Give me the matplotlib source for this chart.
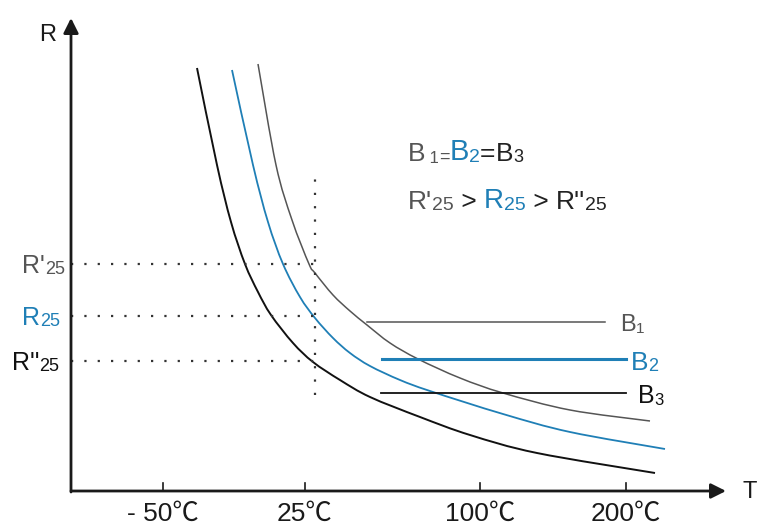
import matplotlib.pyplot as plt
from matplotlib.path import Path
from matplotlib.patches import PathPatch

plt.rcParams['font.family'] = ['Liberation Sans', 'Noto Sans CJK SC', 'DejaVu Sans']

BLUE = '#1f7fb6'
GRAY = '#555555'
DARK = '#1a1a1a'

# curves, in chart units (T to the right, R upwards, origin at the axes corner)
black_t = [126, 146, 160, 174, 187, 200, 222, 242, 269, 299, 349, 399, 466, 584]
black_r = [423, 326, 269, 227, 199, 176, 148, 129, 111, 94, 74, 56, 38, 18]
blue_t = [161, 182, 197, 212, 229, 244, 262, 279, 299, 329, 359, 432, 499, 594]
blue_r = [421, 326, 269, 227, 194, 173, 153, 138, 125, 111, 100, 77, 59, 42]
gray_t = [187, 205, 221, 238, 244, 262, 279, 296, 319, 347, 389, 432, 499, 579]
gray_r = [427, 326, 271, 227, 218, 196, 180, 166, 148, 132, 113, 98, 81, 70]

# reference resistances at 25 degC
r_levels = [227, 175, 130]
t25 = 244

# x ticks
tick_pos = [92, 234, 409, 555]
tick_labels = ['- 50℃', '25℃', '100℃', '200℃']

# B constant bars: (start, end, level)
b_bars = [(296, 534, 169), (311, 555, 132), (310, 555, 98)]

fig = plt.figure(figsize=(7.79, 5.25), dpi=100)
ax = fig.add_axes([0, 0, 1, 1])
ax.set_xlim(-71, 708)
ax.set_ylim(-34, 491)
ax.axis('off')


def smooth(xs, ys):
    # catmull-rom through the read points, drawn as bezier segments
    pts = list(zip(xs, ys))
    verts = [pts[0]]
    codes = [Path.MOVETO]
    for i in range(len(pts) - 1):
        p0 = pts[i - 1] if i > 0 else pts[i]
        p1 = pts[i]
        p2 = pts[i + 1]
        p3 = pts[i + 2] if i + 2 < len(pts) else pts[i + 1]
        c1 = (p1[0] + (p2[0] - p0[0]) / 6, p1[1] + (p2[1] - p0[1]) / 6)
        c2 = (p2[0] - (p3[0] - p1[0]) / 6, p2[1] - (p3[1] - p1[1]) / 6)
        verts += [c1, c2, p2]
        codes += [Path.CURVE4] * 3
    return Path(verts, codes)


# axes with arrows
arrow = dict(arrowstyle='-|>,head_length=0.9,head_width=0.45', color=DARK, lw=2, shrinkA=0, shrinkB=0)
ax.annotate('', xy=(655, 0), xytext=(0, 0), arrowprops=arrow)
ax.annotate('', xy=(0, 473), xytext=(0, -1), arrowprops=arrow)
ax.text(-23, 456, 'R', fontsize=17, ha='center', va='center', color=DARK)
ax.text(679, -1, 'T', fontsize=17, ha='center', va='center', color=DARK)

for p, lab in zip(tick_pos, tick_labels):
    ax.plot([p, p], [0, 8], color=DARK, lw=1.2)
    ax.text(p, -30, lab, fontsize=19, ha='center', va='baseline', color=DARK)

# dotted guides
for r in r_levels:
    ax.plot([0, t25], [r, r], color='#333333', lw=1.6, ls=(0, (1, 5)))
ax.plot([t25, t25], [96, 314], color='#333333', lw=1.6, ls=(0, (1, 5)))

# curves
ax.add_patch(PathPatch(smooth(black_t, black_r), fill=False, edgecolor='#111111', lw=1.4))
ax.add_patch(PathPatch(smooth(blue_t, blue_r), fill=False, edgecolor=BLUE, lw=1.3))
ax.add_patch(PathPatch(smooth(gray_t, gray_r), fill=False, edgecolor=GRAY, lw=1.1))

# B bars
ax.plot(b_bars[0][:2], [b_bars[0][2]] * 2, color=GRAY, lw=1.1)
ax.plot(b_bars[1][:2], [b_bars[1][2]] * 2, color=BLUE, lw=2.2)
ax.plot(b_bars[2][:2], [b_bars[2][2]] * 2, color='#111111', lw=1.3)


def pieces(x, y, parts):
    prev = None
    for txt, size, color in parts:
        if prev is None:
            prev = ax.text(x, y, txt, fontsize=size, color=color, ha='left', va='baseline')
        else:
            prev = ax.annotate(txt, xy=(1, 0), xycoords=prev, fontsize=size, color=color,
                               ha='left', va='bottom')


pieces(-49, 218, [("R'", 18, GRAY), ('25', 13, GRAY)])
pieces(-49, 166, [('R', 18, BLUE), ('25', 13, BLUE)])
pieces(-59, 121, [("R''", 18, '#111111'), ('25', 13, '#111111')])

pieces(549, 160, [('B', 17, GRAY), ('1', 11, GRAY)])
pieces(560, 121, [('B', 19, BLUE), ('2', 13, BLUE)])
pieces(567, 88, [('B', 18, '#111111'), ('3', 12, '#111111')])

pieces(337, 330, [('B', 19, GRAY), (' 1', 12, GRAY), ('=', 13, GRAY), ('B', 21, BLUE), ('2', 14, BLUE),
                  ('=', 19, '#222222'), ('B', 19, '#222222'), ('3', 13, '#222222')])
pieces(337, 282, [("R'", 19, GRAY), ('25', 14, GRAY), (' > ', 19, '#222222'), ('R', 20, BLUE),
                  ('25', 14, BLUE), (' > ', 19, '#222222'), ("R''", 19, '#222222'), ('25', 14, '#222222')])

fig.savefig('out.png', dpi=100)
